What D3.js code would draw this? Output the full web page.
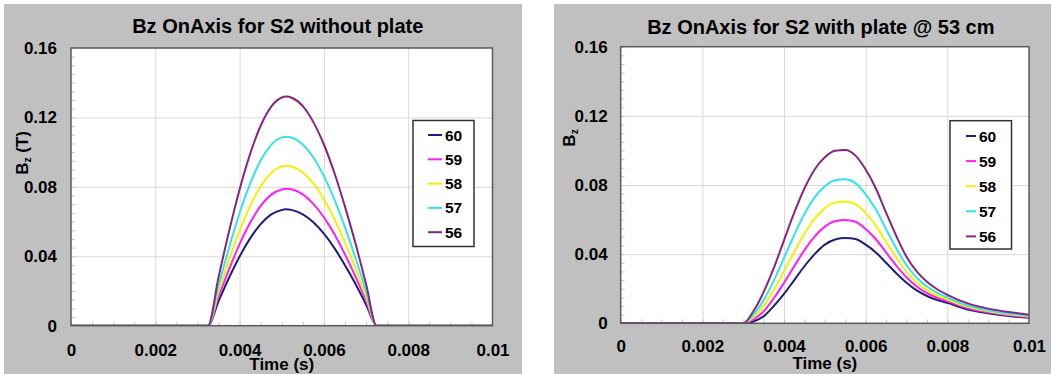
<!DOCTYPE html>
<html>
<head>
<meta charset="utf-8">
<script src="https://cdn.jsdelivr.net/npm/d3@7"></script>
<style>
  html, body { margin: 0; padding: 0; background: #ffffff; }
  svg { display: block; }
  text { font-family: "Liberation Sans", Arial, Helvetica, sans-serif; font-weight: bold; fill: #000; }
</style>
</head>
<body>
<svg id="chart" width="1051" height="374"></svg>
<script>
// Probe positions (legend order)
const seriesNames = ["60", "59", "58", "57", "56"];
const seriesColors = ["#1f1f7a", "#ff1ff0", "#f2f200", "#33e3e8", "#862586"];

// Axis ticks
const xTickValues = [0, 0.002, 0.004, 0.006, 0.008, 0.01];
const xTickLabels = ["0", "0.002", "0.004", "0.006", "0.008", "0.01"];
const yTickValues = [0, 0.04, 0.08, 0.12, 0.16];
const yTickLabels = ["0", "0.04", "0.08", "0.12", "0.16"];

// Bz on axis, no plate (time in s, Bz in T)
const timeNoPlate = [0, 0.001, 0.002, 0.003, 0.00325, 0.0035, 0.00375, 0.004, 0.00425, 0.0045, 0.00475, 0.005, 0.0051,
  0.00525, 0.0055, 0.00575, 0.006, 0.00625, 0.0065, 0.00675, 0.007, 0.00725, 0.008, 0.009, 0.01];
const bz60NoPlate = [0, 0, 0, 0, 0, 0.0141, 0.0276, 0.0399, 0.0503, 0.0585, 0.0641, 0.0667, 0.0671,
  0.0666, 0.0642, 0.0596, 0.0530, 0.0447, 0.0348, 0.0240, 0.0122, 0, 0, 0, 0];
const bz59NoPlate = [0, 0, 0, 0, 0, 0.0167, 0.0325, 0.0470, 0.0593, 0.0690, 0.0755, 0.0785, 0.0789,
  0.0785, 0.0757, 0.0702, 0.0625, 0.0527, 0.0411, 0.0283, 0.0144, 0, 0, 0, 0];
const bz58NoPlate = [0, 0, 0, 0, 0, 0.0194, 0.0379, 0.0547, 0.0690, 0.0803, 0.0880, 0.0918, 0.0922,
  0.0916, 0.0883, 0.0820, 0.0729, 0.0615, 0.0479, 0.0330, 0.0168, 0, 0, 0, 0];
const bz57NoPlate = [0, 0, 0, 0, 0, 0.0230, 0.0449, 0.0649, 0.0818, 0.0952, 0.1042, 0.1085, 0.1089,
  0.1083, 0.1044, 0.0969, 0.0862, 0.0727, 0.0567, 0.0390, 0.0198, 0, 0, 0, 0];
const bz56NoPlate = [0, 0, 0, 0, 0, 0.0279, 0.0544, 0.0785, 0.0990, 0.1152, 0.1262, 0.1315, 0.1320,
  0.1312, 0.1265, 0.1173, 0.1044, 0.0880, 0.0686, 0.0473, 0.0240, 0, 0, 0, 0];

// Bz on axis, plate at 53 cm
const timeWithPlate = [0, 0.001, 0.002, 0.003, 0.00325, 0.0035, 0.00375, 0.004, 0.00425, 0.0045, 0.00475, 0.005,
  0.00525, 0.0055, 0.00575, 0.006, 0.00625, 0.0065, 0.00675, 0.007, 0.00725, 0.0075, 0.00775, 0.008,
  0.0085, 0.009, 0.0095, 0.01];
const bz60WithPlate = [0, 0, 0, 0, 0.0010, 0.0040, 0.0100, 0.0170, 0.0250, 0.0330, 0.0400, 0.0455,
  0.0485, 0.0493, 0.0488, 0.0455, 0.0410, 0.0350, 0.0290, 0.0235, 0.0190, 0.0158, 0.0135, 0.0118,
  0.0080, 0.0058, 0.0042, 0.0032];
const bz59WithPlate = [0, 0, 0, 0, 0.0022, 0.0069, 0.0145, 0.0234, 0.0330, 0.0423, 0.0501, 0.0559,
  0.0590, 0.0597, 0.0587, 0.0545, 0.0486, 0.0410, 0.0334, 0.0266, 0.0213, 0.0175, 0.0148, 0.0128,
  0.0087, 0.0064, 0.0047, 0.0036];
const bz58WithPlate = [0, 0, 0, 0, 0.0035, 0.0099, 0.0192, 0.0300, 0.0413, 0.0518, 0.0605, 0.0666,
  0.0698, 0.0705, 0.0689, 0.0637, 0.0565, 0.0471, 0.0380, 0.0298, 0.0236, 0.0192, 0.0161, 0.0138,
  0.0095, 0.0069, 0.0052, 0.0040];
const bz57WithPlate = [0, 0, 0, 0, 0.0050, 0.0134, 0.0247, 0.0378, 0.0511, 0.0632, 0.0728, 0.0793,
  0.0827, 0.0833, 0.0811, 0.0746, 0.0658, 0.0544, 0.0434, 0.0336, 0.0264, 0.0213, 0.0177, 0.0149,
  0.0103, 0.0076, 0.0057, 0.0044];
const bz56WithPlate = [0, 0, 0, 0, 0.0070, 0.0180, 0.0320, 0.0480, 0.0640, 0.0780, 0.0890, 0.0960,
  0.0998, 0.1002, 0.0970, 0.0890, 0.0780, 0.0640, 0.0505, 0.0385, 0.0300, 0.0240, 0.0197, 0.0165,
  0.0115, 0.0085, 0.0065, 0.0050];

const svg = d3.select("#chart");

function drawPanel(cfg) {
  const g = svg.append("g");

  // grey frame behind the chart
  g.append("rect")
    .attr("x", cfg.frame[0]).attr("y", cfg.frame[1])
    .attr("width", cfg.frame[2]).attr("height", cfg.frame[3])
    .attr("fill", "#c0c0c0");

  const x = d3.scaleLinear().domain([0, 0.01]).range([cfg.plot.left, cfg.plot.right]);
  const y = d3.scaleLinear().domain([0, 0.16]).range([cfg.plot.bottom, cfg.plot.top]);

  // plotting area
  g.append("rect")
    .attr("x", cfg.plot.left).attr("y", cfg.plot.top)
    .attr("width", cfg.plot.right - cfg.plot.left)
    .attr("height", cfg.plot.bottom - cfg.plot.top)
    .attr("fill", "#ffffff");

  // gridlines
  g.append("g")
    .attr("transform", `translate(0,${cfg.plot.bottom})`)
    .call(d3.axisBottom(x).tickValues(xTickValues.slice(1, -1))
      .tickSize(-(cfg.plot.bottom - cfg.plot.top)).tickFormat(""))
    .call(a => a.select(".domain").remove())
    .call(a => a.selectAll("line").attr("stroke", "#d9d9d9").attr("stroke-width", 1));
  g.append("g")
    .attr("transform", `translate(${cfg.plot.left},0)`)
    .call(d3.axisLeft(y).tickValues(yTickValues.slice(1, -1))
      .tickSize(-(cfg.plot.right - cfg.plot.left)).tickFormat(""))
    .call(a => a.select(".domain").remove())
    .call(a => a.selectAll("line").attr("stroke", "#d9d9d9").attr("stroke-width", 1));

  // small inner minor ticks
  g.append("g")
    .attr("transform", `translate(0,${cfg.plot.bottom})`)
    .call(d3.axisBottom(x).ticks(25).tickSize(-4).tickFormat(""))
    .call(a => a.select(".domain").remove())
    .call(a => a.selectAll("line").attr("stroke", "#c8c8c8"));
  g.append("g")
    .attr("transform", `translate(${cfg.plot.left},0)`)
    .call(d3.axisLeft(y).ticks(32).tickSize(-4).tickFormat(""))
    .call(a => a.select(".domain").remove())
    .call(a => a.selectAll("line").attr("stroke", "#c8c8c8"));

  // curves
  const line = d3.line()
    .x(d => x(d[0]))
    .y(d => y(d[1]))
    .curve(d3.curveMonotoneX);
  const clipId = "clip-" + cfg.id;
  g.append("clipPath").attr("id", clipId)
    .append("rect")
    .attr("x", cfg.plot.left).attr("y", cfg.plot.top)
    .attr("width", cfg.plot.right - cfg.plot.left)
    .attr("height", cfg.plot.bottom - cfg.plot.top);
  const curves = g.append("g").attr("clip-path", `url(#${clipId})`);
  cfg.series.forEach((vals, i) => {
    curves.append("path")
      .datum(cfg.time.map((t, k) => [t, vals[k]]))
      .attr("fill", "none")
      .attr("stroke", seriesColors[i])
      .attr("stroke-width", 2)
      .attr("stroke-linejoin", "round")
      .attr("d", line);
  });

  // plot border
  g.append("rect")
    .attr("x", cfg.plot.left).attr("y", cfg.plot.top)
    .attr("width", cfg.plot.right - cfg.plot.left)
    .attr("height", cfg.plot.bottom - cfg.plot.top)
    .attr("fill", "none").attr("stroke", "#5a5a5a").attr("stroke-width", 1.5);

  // tick labels
  const xAx = g.append("g")
    .attr("transform", `translate(0,${cfg.plot.bottom})`)
    .call(d3.axisBottom(x).tickValues(xTickValues).tickSize(0).tickPadding(cfg.xLabelPad)
      .tickFormat((d, i) => xTickLabels[i]));
  xAx.select(".domain").remove();
  xAx.selectAll("text").attr("font-size", 17).attr("font-family", null).attr("fill", "#000");

  const yAx = g.append("g")
    .attr("transform", `translate(${cfg.plot.left},0)`)
    .call(d3.axisLeft(y).tickValues(yTickValues).tickSize(0).tickPadding(cfg.yLabelPad)
      .tickFormat((d, i) => yTickLabels[i]));
  yAx.select(".domain").remove();
  yAx.selectAll("text").attr("font-size", 17).attr("font-family", null).attr("fill", "#000");

  // title
  g.append("text")
    .attr("x", (cfg.plot.left + cfg.plot.right) / 2 + cfg.titleDx)
    .attr("y", cfg.titleY)
    .attr("text-anchor", "middle")
    .attr("font-size", 20)
    .text(cfg.title);

  // x axis title
  g.append("text")
    .attr("x", (cfg.plot.left + cfg.plot.right) / 2)
    .attr("y", cfg.xTitleY)
    .attr("text-anchor", "middle")
    .attr("font-size", 17)
    .text("Time (s)");

  // y axis title with subscript z
  const yt = g.append("text")
    .attr("transform", `translate(${cfg.yTitle[0]},${cfg.yTitle[1]}) rotate(-90)`)
    .attr("text-anchor", "middle")
    .attr("font-size", 17);
  yt.append("tspan").text("B");
  yt.append("tspan").attr("font-size", 10).attr("dy", 3).text("z");
  if (cfg.yUnit) yt.append("tspan").attr("dy", -3).text(" " + cfg.yUnit);

  // legend
  const L = cfg.legend;
  g.append("rect")
    .attr("x", L.x).attr("y", L.y).attr("width", L.w).attr("height", L.h)
    .attr("fill", "#ffffff").attr("stroke", "#333333").attr("stroke-width", 1.5);
  seriesNames.forEach((name, i) => {
    const cy = L.firstRow + i * L.rowGap;
    g.append("line")
      .attr("x1", L.lineX1).attr("x2", L.lineX2)
      .attr("y1", cy).attr("y2", cy)
      .attr("stroke", seriesColors[i]).attr("stroke-width", 2);
    g.append("text")
      .attr("x", L.textX).attr("y", cy).attr("dy", "0.36em")
      .attr("font-size", 15.5)
      .text(name);
  });
}

drawPanel({
  id: "noplate",
  frame: [4, 4, 518, 370],
  plot: { left: 71, right: 492.5, top: 48, bottom: 325.7 },
  title: "Bz OnAxis for S2 without plate",
  titleDx: -4, titleY: 33,
  xLabelPad: 18, yLabelPad: 14,
  xTitleY: 370,
  yTitle: [28, 153], yUnit: "(T)",
  time: timeNoPlate,
  series: [bz60NoPlate, bz59NoPlate, bz58NoPlate, bz57NoPlate, bz56NoPlate],
  legend: { x: 413, y: 120.5, w: 61, h: 126, lineX1: 428, lineX2: 442, textX: 445, firstRow: 135, rowGap: 24.3 }
});

drawPanel({
  id: "plate",
  frame: [554, 4, 497, 370],
  plot: { left: 620.7, right: 1029, top: 46.7, bottom: 323.3 },
  title: "Bz OnAxis for S2 with plate @ 53 cm",
  titleDx: -4, titleY: 34,
  xLabelPad: 17, yLabelPad: 13,
  xTitleY: 369,
  yTitle: [575, 138], yUnit: null,
  time: timeWithPlate,
  series: [bz60WithPlate, bz59WithPlate, bz58WithPlate, bz57WithPlate, bz56WithPlate],
  legend: { x: 950, y: 120.7, w: 61.5, h: 128.3, lineX1: 966, lineX2: 976, textX: 979, firstRow: 136, rowGap: 25.1 }
});
</script>
</body>
</html>
